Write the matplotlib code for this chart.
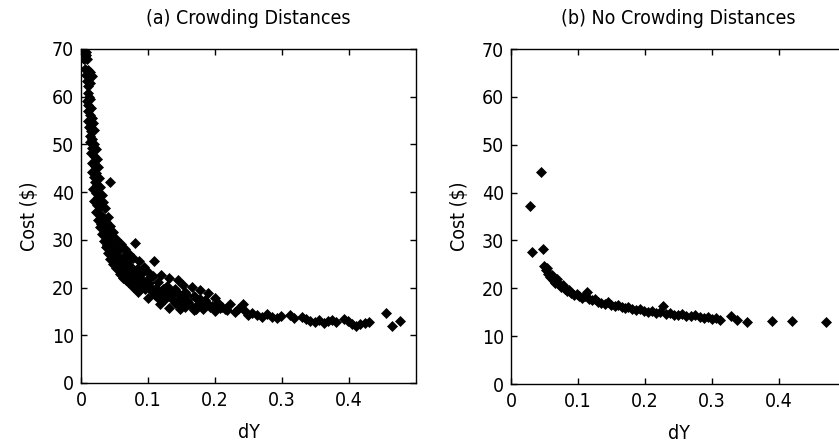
import matplotlib.pyplot as plt

plt.rcParams['font.family'] = ['DejaVu Sans']
plt.rcParams['font.stretch'] = 'condensed'

# (a) with crowding distances: dY and cost values
dy_a = [0.002, 0.004, 0.006, 0.003, 0.008, 0.005, 0.009, 0.007,
        0.006, 0.010, 0.014, 0.008, 0.012, 0.016, 0.009, 0.013, 0.011,
        0.010, 0.012, 0.009, 0.014, 0.011, 0.015, 0.010,
        0.013, 0.016, 0.011, 0.018, 0.012, 0.015, 0.019, 0.014, 0.017,
        0.013, 0.020, 0.016, 0.022, 0.015, 0.019, 0.024, 0.017, 0.021, 0.026,
        0.016, 0.023, 0.019, 0.027, 0.021, 0.044,
        0.024, 0.029, 0.018, 0.022, 0.031, 0.026,
        0.020, 0.033, 0.024, 0.029, 0.036, 0.022,
        0.027, 0.032, 0.040, 0.025, 0.037, 0.030,
        0.044, 0.028, 0.034, 0.041, 0.048, 0.031,
        0.037, 0.045, 0.053, 0.034, 0.042, 0.060, 0.050, 0.080,
        0.038, 0.046, 0.066, 0.056, 0.041, 0.072, 0.050,
        0.062, 0.044, 0.078, 0.055, 0.068, 0.086, 0.048, 0.109,
        0.060, 0.075, 0.094, 0.052, 0.083, 0.066, 0.100, 0.058,
        0.090, 0.073, 0.108, 0.120, 0.063, 0.081, 0.098, 0.132, 0.145,
        0.070, 0.115, 0.088, 0.152, 0.128, 0.078, 0.105, 0.165, 0.140,
        0.095, 0.120, 0.178, 0.155, 0.085, 0.190, 0.135, 0.110,
        0.168, 0.200, 0.148, 0.125, 0.185, 0.100, 0.223, 0.242,
        0.160, 0.175, 0.140, 0.195, 0.210, 0.118, 0.155, 0.182, 0.132,
        0.168, 0.200, 0.218, 0.230, 0.245, 0.255, 0.148,
        0.262, 0.270, 0.278, 0.285, 0.292, 0.298, 0.312, 0.318, 0.330,
        0.336, 0.342, 0.350, 0.356, 0.362, 0.368, 0.374, 0.380, 0.392,
        0.398, 0.404, 0.410, 0.416, 0.424, 0.430, 0.456, 0.464, 0.476,
        # denser middle of the band
        0.035, 0.039, 0.043, 0.047, 0.051, 0.054, 0.057, 0.061, 0.064,
        0.067, 0.070, 0.074, 0.077, 0.081, 0.084, 0.088, 0.091, 0.096,
        0.102, 0.106, 0.112, 0.117, 0.122, 0.127, 0.133, 0.138, 0.143,
        0.150, 0.157, 0.163, 0.170, 0.177, 0.188, 0.205, 0.215, 0.235,
        0.058, 0.064, 0.071, 0.079, 0.087, 0.093, 0.104, 0.113, 0.124,
        0.136, 0.147, 0.159, 0.172, 0.192, 0.208, 0.250]
cost_a = [69.5, 69.0, 68.6, 68.2, 68.8, 67.8, 67.9, 69.3,
          65.8, 65.5, 65.2, 64.6, 64.1, 64.4, 63.3, 62.8, 62.2,
          60.8, 59.9, 59.2, 59.5, 58.3, 57.6, 57.0,
          56.2, 55.5, 55.0, 54.4, 53.6, 52.9, 53.1, 51.8, 51.2,
          50.4, 50.0, 49.3, 49.0, 48.2, 47.5, 46.9, 46.2, 45.5, 45.2,
          44.3, 44.0, 43.2, 43.0, 42.2, 42.2,
          41.4, 41.0, 40.6, 39.8, 39.5, 38.9,
          38.2, 38.0, 37.3, 36.8, 36.6, 35.9,
          35.4, 35.0, 34.8, 34.2, 33.8, 33.4,
          33.0, 32.6, 32.2, 31.8, 31.6, 31.2,
          30.8, 30.4, 30.2, 29.8, 29.4, 29.2, 28.8, 29.3,
          28.4, 28.0, 28.1, 27.6, 27.2, 27.0, 26.8,
          26.4, 26.0, 26.2, 25.8, 25.4, 25.5, 25.0, 25.6,
          24.6, 24.4, 24.3, 24.0, 23.8, 23.4, 23.2, 22.9,
          22.8, 22.5, 22.4, 22.6, 22.0, 21.8, 21.6, 21.9, 21.5,
          21.2, 21.1, 20.8, 20.6, 20.4, 20.2, 20.0, 20.2, 19.8,
          19.6, 19.3, 19.5, 19.0, 19.0, 18.8, 18.6, 18.5,
          18.2, 17.8, 17.8, 17.6, 17.4, 17.8, 16.6, 16.6,
          17.0, 16.6, 16.8, 16.2, 16.0, 16.6, 16.0, 15.6, 15.8,
          15.2, 15.0, 15.3, 14.8, 15.0, 14.6, 15.4,
          14.2, 13.8, 14.4, 13.9, 13.6, 14.1, 14.2, 13.7, 13.9,
          13.4, 13.0, 12.8, 13.2, 12.6, 12.9, 13.3, 12.8, 13.4,
          12.9, 12.4, 11.9, 12.3, 12.6, 12.7, 14.7, 11.9, 13.0,
          31.0, 29.0, 27.5, 26.0, 25.2, 24.0, 23.6, 23.0, 24.2,
          21.6, 23.2, 21.4, 22.6, 20.6, 22.2, 20.2, 21.6, 20.0,
          21.0, 19.2, 20.0, 18.6, 19.6, 18.2, 19.4, 17.4, 19.0,
          17.2, 18.6, 16.4, 18.0, 17.6, 16.8, 16.8, 15.6, 15.6,
          26.0, 25.0, 23.8, 22.6, 21.6, 20.6, 19.4, 18.0, 19.8,
          18.4, 16.4, 17.4, 15.6, 16.0, 15.8, 14.2]

# (b) without crowding distances
dy_b = [0.029, 0.045, 0.032, 0.048,
        0.050, 0.052, 0.054, 0.056, 0.058, 0.061, 0.063, 0.066, 0.068, 0.071,
        0.074, 0.077, 0.080, 0.083, 0.087, 0.090, 0.094, 0.098, 0.102, 0.106,
        0.110, 0.113, 0.117, 0.121, 0.126, 0.130, 0.135, 0.140, 0.145, 0.150,
        0.155, 0.160, 0.165, 0.170, 0.175, 0.180, 0.186, 0.192, 0.198, 0.204,
        0.210, 0.216, 0.222, 0.227, 0.232, 0.238, 0.244, 0.250, 0.256, 0.262,
        0.268, 0.274, 0.282, 0.288, 0.294, 0.300, 0.306, 0.312, 0.329, 0.337,
        0.352, 0.390, 0.419, 0.470]
cost_b = [37.1, 44.3, 27.5, 28.2,
          24.6, 23.8, 24.2, 23.0, 22.4, 22.8, 21.8, 21.2, 22.0, 20.8,
          20.3, 20.7, 19.8, 19.4, 19.7, 19.0, 18.7, 18.9, 18.3, 18.0,
          18.4, 19.2, 17.7, 17.5, 17.8, 17.2, 17.0, 16.8, 17.1, 16.5,
          16.3, 16.6, 16.0, 15.8, 16.1, 15.6, 15.4, 15.6, 15.2, 15.0,
          15.3, 14.9, 15.0, 16.2, 14.7, 14.8, 14.5, 14.4, 14.6, 14.3,
          14.2, 14.4, 14.0, 13.8, 14.0, 13.6, 13.8, 13.3, 14.2, 13.4,
          12.9, 13.2, 13.2, 12.9]

xticks = [0, 0.1, 0.2, 0.3, 0.4]
xtick_labels = ['0', '0.1', '0.2', '0.3', '0.4']
yticks = [0, 10, 20, 30, 40, 50, 60, 70]

fig = plt.figure(figsize=(8.39, 4.46), dpi=100)
ax_a = fig.add_axes([0.0965, 0.1413, 0.3993, 0.7489])
ax_b = fig.add_axes([0.609, 0.139, 0.3993, 0.751])

panels = [(ax_a, dy_a, cost_a, '(a) Crowding Distances'),
          (ax_b, dy_b, cost_b, '(b) No Crowding Distances')]

for ax, x, y, title in panels:
    ax.plot(x, y, linestyle='none', marker='D', markersize=5,
            color='black', markeredgewidth=0.5)
    ax.set_xlim(0, 0.5)
    ax.set_ylim(0, 70)
    ax.set_xticks(xticks)
    ax.set_xticklabels(xtick_labels)
    ax.set_yticks(yticks)
    ax.tick_params(direction='in', length=4, top=True, right=True,
                   labelsize=14, width=1)
    ax.tick_params(axis='x', pad=6)
    ax.tick_params(axis='y', pad=5)
    for s in ax.spines.values():
        s.set_linewidth(1)
    ax.set_title(title, fontsize=14, pad=18)
    ax.set_xlabel('dY', fontsize=14, labelpad=9)
    ax.set_ylabel('Cost ($)', fontsize=14, labelpad=9)

fig.savefig('out.png', dpi=100)
